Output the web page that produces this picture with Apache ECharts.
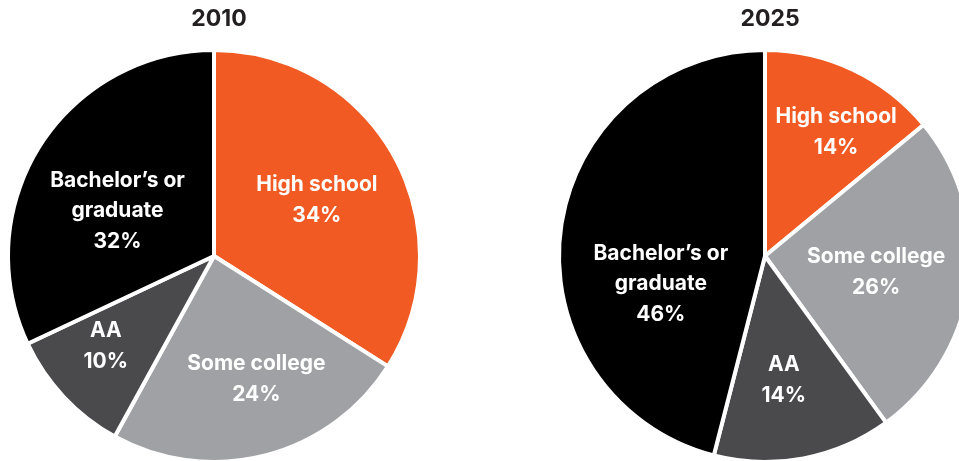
<!DOCTYPE html>
<html>
<head>
<meta charset="utf-8">
<script src="https://cdn.jsdelivr.net/npm/echarts@6/dist/echarts.min.js"></script>
<style>html,body{margin:0;padding:0;background:#fff}#chart{width:959px;height:461px}</style>
</head>
<body>
<div id="chart"></div>
<script>
// Data
var categories = ['High school', 'Some college', 'AA', 'Bachelor\u2019s or graduate'];
var labelNames = ['High school', 'Some college', 'AA', 'Bachelor\u2019s or\ngraduate'];
var years = ['2010', '2025'];
var values2010 = [34, 24, 10, 32];
var values2025 = [14, 26, 14, 46];

// Styles
var colors = ['#F15A22', '#A0A1A5', '#4A4A4C', '#000000'];
var centers = [[214, 256], [765, 256]];
var labelShift = [
  [[10, -4], [16, 21], [-31, 18], [-7, 12]],
  [[26, -27], [6, 3], [-1, 21], [1, 42]]
];
var FONT = 'Inter';

function makeSeries(vals, idx) {
  return {
    type: 'pie',
    center: centers[idx],
    radius: 206,
    startAngle: 90,
    clockwise: true,
    animation: false,
    silent: true,
    itemStyle: { borderColor: '#ffffff', borderWidth: 4 },
    label: {
      show: true,
      position: 'inside',
      formatter: function (p) {
        var lines = labelNames[p.dataIndex].split('\n').map(function (s) { return '{n|' + s + '}'; });
        return lines.join('\n') + '\n{v|' + p.value + '%}';
      },
      rich: {
        n: { fontFamily: FONT, fontWeight: 'bold', fontSize: 21, color: '#fff', lineHeight: 30 },
        v: { fontFamily: FONT, fontWeight: 'bold', fontSize: 21, color: '#fff', lineHeight: 32 }
      }
    },
    labelLine: { show: false },
    labelLayout: function (p) {
      var s = labelShift[idx][p.dataIndex];
      return { dx: s[0], dy: s[1] };
    },
    data: vals.map(function (v, i) {
      return { name: categories[i], value: v, itemStyle: { color: colors[i] } };
    })
  };
}

var chart = echarts.init(document.getElementById('chart'), null, { renderer: 'canvas' });
chart.setOption({
  backgroundColor: '#ffffff',
  animation: false,
  title: years.map(function (y, i) {
    return {
      text: y,
      left: centers[i][0],
      top: 3,
      textAlign: 'center',
      textStyle: { fontFamily: FONT, fontWeight: 'bold', fontSize: 23, color: '#231F20' }
    };
  }),
  series: [makeSeries(values2010, 0), makeSeries(values2025, 1)]
});
</script>
</body>
</html>
